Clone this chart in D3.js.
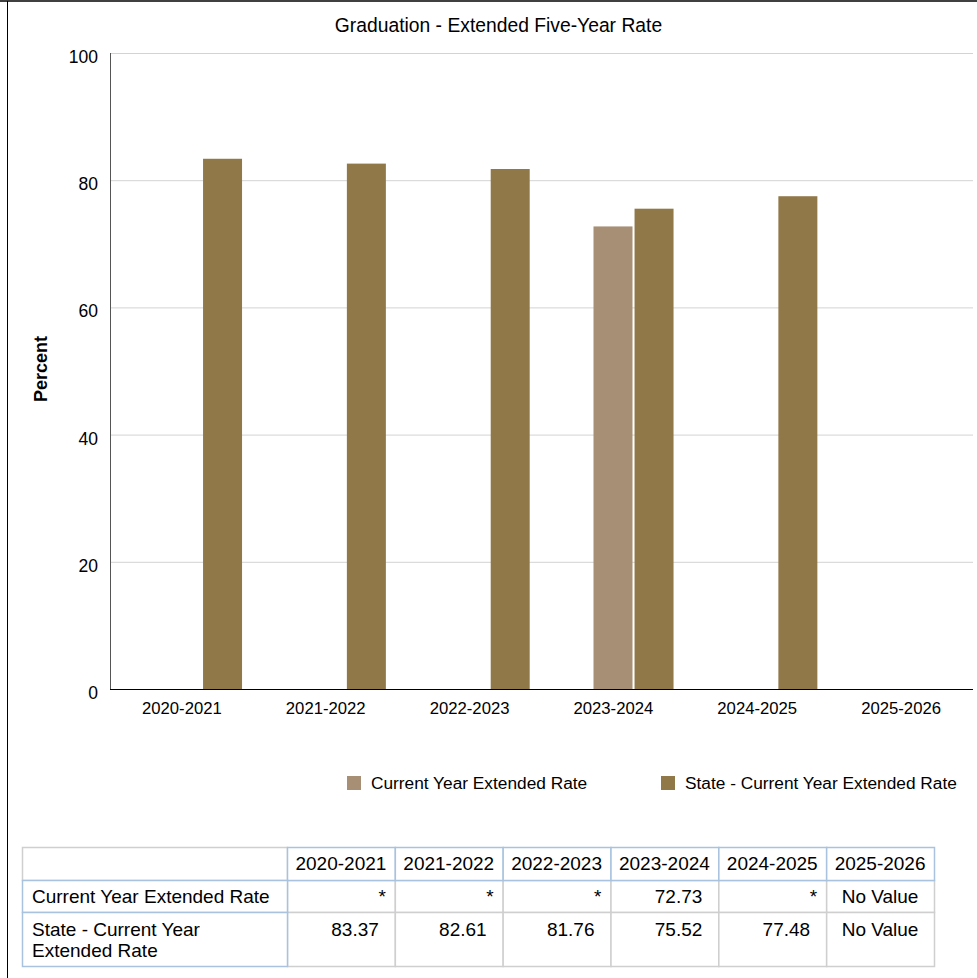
<!DOCTYPE html>
<html>
<head>
<meta charset="utf-8">
<script src="https://cdn.jsdelivr.net/npm/d3@7"></script>
<style>
  body { margin: 0; background: #fff; }
  text { font-family: "Liberation Sans", Arial, sans-serif; fill: #000; }
</style>
</head>
<body>
<script>
var years = ["2020-2021", "2021-2022", "2022-2023", "2023-2024", "2024-2025", "2025-2026"];
var seriesNames = ["Current Year Extended Rate", "State - Current Year Extended Rate"];
// null = no bar ("*" or "No Value" in the table)
var currentRate = [null, null, null, 72.73, null, null];
var stateRate = [83.37, 82.61, 81.76, 75.52, 77.48, null];
var currentLabels = ["*", "*", "*", "72.73", "*", "No Value"];
var stateLabels = ["83.37", "82.61", "81.76", "75.52", "77.48", "No Value"];
var yTicks = [0, 20, 40, 60, 80, 100];
var colors = ["#a68f74", "#917848"];

var svg = d3.select("body")
  .append("svg")
  .attr("width", 977)
  .attr("height", 978);

// frame
svg.append("line").attr("x1", 0).attr("x2", 977).attr("y1", 1).attr("y2", 1)
  .attr("stroke", "#000").attr("stroke-width", 1.5);
svg.append("line").attr("x1", 7.5).attr("x2", 7.5).attr("y1", 1).attr("y2", 978)
  .attr("stroke", "#000").attr("stroke-width", 1);

var x0 = d3.scaleBand().domain(years).range([110, 973]);
var bw = x0.bandwidth();
var x1 = d3.scaleBand().domain(seriesNames)
  .range([bw * 0.3615, bw * 0.918])
  .paddingInner(0.05);
var y = d3.scaleLinear().domain([0, 100]).range([689, 53]);

// gridlines
svg.selectAll(".grid")
  .data(yTicks.slice(1))
  .enter()
  .append("line")
  .attr("x1", 110).attr("x2", 973)
  .attr("y1", function(d) { return y(d) + 0.5; })
  .attr("y2", function(d) { return y(d) + 0.5; })
  .attr("stroke", "#d3d3d3");

// y labels
svg.selectAll(".ylab")
  .data(yTicks)
  .enter()
  .append("text")
  .attr("x", 98)
  .attr("y", function(d) { return y(d) + 10; })
  .attr("text-anchor", "end")
  .attr("font-size", "17.5px")
  .text(function(d) { return d; });

svg.append("text")
  .attr("transform", "translate(47,369) rotate(-90)")
  .attr("text-anchor", "middle")
  .attr("font-size", "18px")
  .attr("font-weight", "bold")
  .text("Percent");

svg.append("text")
  .attr("x", 498.5).attr("y", 31.5)
  .attr("text-anchor", "middle")
  .attr("font-size", "19.3px")
  .text("Graduation - Extended Five-Year Rate");

// bars
var rows = years.map(function(yr, i) {
  return { year: yr, values: [currentRate[i], stateRate[i]] };
});
var groups = svg.selectAll(".grp")
  .data(rows)
  .enter()
  .append("g")
  .attr("transform", function(d) { return "translate(" + x0(d.year) + ",0)"; });

groups.selectAll("rect")
  .data(function(d) {
    return d.values.map(function(v, j) { return { key: seriesNames[j], v: v, j: j }; })
      .filter(function(e) { return e.v != null; });
  })
  .enter()
  .append("rect")
  .attr("x", function(d) { return x1(d.key); })
  .attr("width", x1.bandwidth())
  .attr("y", function(d) { return y(d.v); })
  .attr("height", function(d) { return y(0) - y(d.v); })
  .attr("fill", function(d) { return colors[d.j]; });

// axes lines
svg.append("line").attr("x1", 110.5).attr("x2", 110.5).attr("y1", 53).attr("y2", 689)
  .attr("stroke", "#555");
svg.append("line").attr("x1", 110).attr("x2", 973).attr("y1", 689.5).attr("y2", 689.5)
  .attr("stroke", "#000");

svg.selectAll(".xlab")
  .data(years)
  .enter()
  .append("text")
  .attr("x", function(d) { return x0(d) + bw / 2; })
  .attr("y", 714)
  .attr("text-anchor", "middle")
  .attr("font-size", "16.7px")
  .text(function(d) { return d; });

// legend
var legX = [347, 661];
var leg = svg.selectAll(".leg")
  .data(seriesNames)
  .enter()
  .append("g")
  .attr("transform", function(d, i) { return "translate(" + legX[i] + ",776)"; });
leg.append("rect").attr("width", 14).attr("height", 14)
  .attr("fill", function(d, i) { return colors[i]; });
leg.append("text").attr("x", 24).attr("y", 13)
  .attr("font-size", "17.3px")
  .text(function(d) { return d; });

// data table
var tLeft = 22, firstW = 265, colW = (934 - 287) / 6;
var rowY = [847, 880, 912, 966];
var blue = "#a9c3df", gray = "#cfcfcf";
var colX = function(i) { return 287 + i * colW; };
var table = svg.append("g");

function cell(x, yy, w, h, stroke) {
  table.append("rect").attr("x", x + 0.5).attr("y", yy + 0.5)
    .attr("width", w).attr("height", h)
    .attr("fill", "#fff").attr("stroke", stroke).attr("stroke-width", 1.5);
}

// body cells first, then headers on top
[1, 2].forEach(function(r) {
  years.forEach(function(yr, i) {
    cell(colX(i), rowY[r], colW, rowY[r + 1] - rowY[r], gray);
  });
});
cell(tLeft, rowY[0], firstW, rowY[1] - rowY[0], gray);
years.forEach(function(yr, i) {
  cell(colX(i), rowY[0], colW, rowY[1] - rowY[0], blue);
});
[1, 2].forEach(function(r) {
  cell(tLeft, rowY[r], firstW, rowY[r + 1] - rowY[r], blue);
});

table.selectAll(".th")
  .data(years)
  .enter()
  .append("text")
  .attr("x", function(d, i) { return colX(i) + colW / 2; })
  .attr("y", 870)
  .attr("text-anchor", "middle")
  .attr("font-size", "19px")
  .text(function(d) { return d; });

table.append("text").attr("x", 32).attr("y", 903).attr("font-size", "19px")
  .text(seriesNames[0]);
table.append("text").attr("x", 32).attr("y", 936).attr("font-size", "19px")
  .text("State - Current Year");
table.append("text").attr("x", 32).attr("y", 957).attr("font-size", "19px")
  .text("Extended Rate");

function valueCell(labels, yy) {
  table.selectAll(null)
    .data(labels)
    .enter()
    .append("text")
    .attr("x", function(d, i) {
      if (d === "No Value") return colX(i) + colW / 2;
      return colX(i + 1) - (d === "*" ? 9 : 16);
    })
    .attr("y", yy)
    .attr("text-anchor", function(d) { return d === "No Value" ? "middle" : "end"; })
    .attr("font-size", "19px")
    .text(function(d) { return d; });
}
valueCell(currentLabels, 903);
valueCell(stateLabels, 936);
</script>
</body>
</html>
